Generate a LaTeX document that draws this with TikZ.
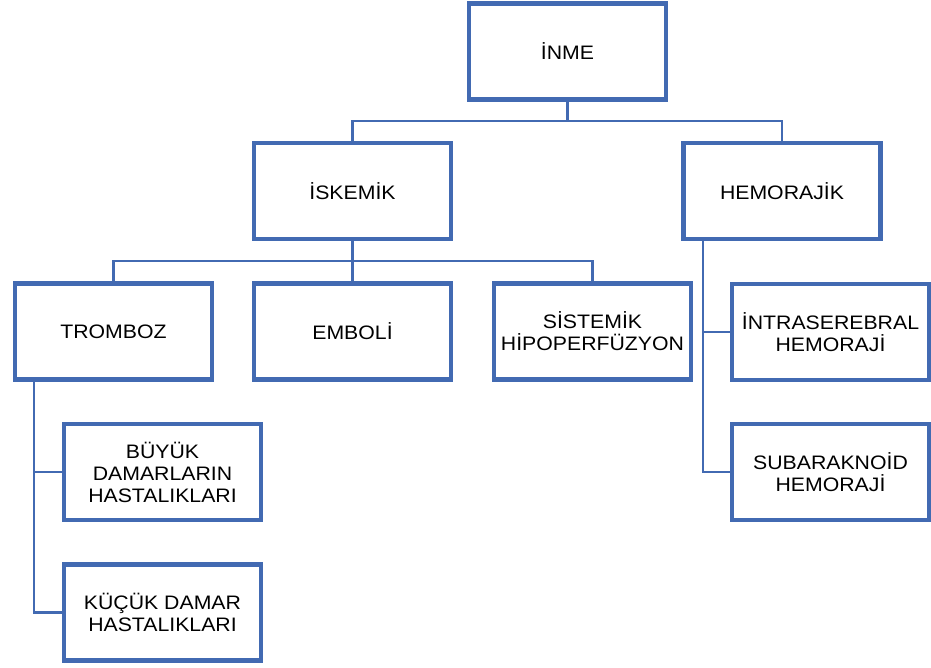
\documentclass[tikz,border=0pt]{standalone}
\usepackage{fontspec}
\setmainfont{Liberation Sans}[FakeStretch=1.09]
\definecolor{boxblue}{RGB}{66,106,178}
\begin{document}
\begin{tikzpicture}[x=1pt,y=1pt,
  box/.style={draw=boxblue, line width=3.2pt, fill=white, minimum width=195.5pt, minimum height=94.5pt, inner sep=0pt, align=center, font=\fontsize{19.5}{22}\selectfont},
  conn/.style={draw=boxblue, line width=2.7pt}]
\useasboundingbox (0,0) rectangle (931,668);
% nodes
\node[box] (inme)  at (567.5,616.5) {İNME};
\node[box] (isk)   at (352.5,477) {İSKEMİK};
\node[box] (hem)   at (782,477) {HEMORAJİK};
\node[box] (trom)  at (113.5,336.5) {TROMBOZ};
\node[box] (emb)   at (352.5,336.5) {EMBOLİ};
\node[box] (sis)   at (592.5,336.5) {SİSTEMİK\\HİPOPERFÜZYON};
\node[box] (intra) at (830.5,336) {İNTRASEREBRAL\\HEMORAJİ};
\node[box] (buyuk) at (162.5,196) {BÜYÜK\\DAMARLARIN\\HASTALIKLARI};
\node[box] (kucuk) at (162.5,55.5) {KÜÇÜK DAMAR\\HASTALIKLARI};
\node[box] (sub)   at (830.5,196) {SUBARAKNOİD\\HEMORAJİ};
% junctions
\coordinate (j1) at (567.5,547);
\coordinate (j2) at (352.5,407);
\coordinate (tb) at (34,289);
\coordinate (hb) at (703,430);
% connectors
\draw[conn] (inme.south) -- (j1);
\draw[conn] (isk.north) |- (j1) -| (hem.north);
\draw[conn] (isk.south) -- (emb.north);
\draw[conn] (trom.north) |- (j2) -| (sis.north);
\draw[conn] (tb) |- (buyuk.west);
\draw[conn] (tb) |- (kucuk.west);
\draw[conn] (hb) |- (intra.west);
\draw[conn] (hb) |- (sub.west);
% redraw box borders on top of connector ends
\foreach \n in {inme,isk,hem,trom,emb,sis,intra,buyuk,kucuk,sub}{
  \draw[boxblue, line width=3.2pt] (\n.south west) rectangle (\n.north east);
}
\end{tikzpicture}
\end{document}
